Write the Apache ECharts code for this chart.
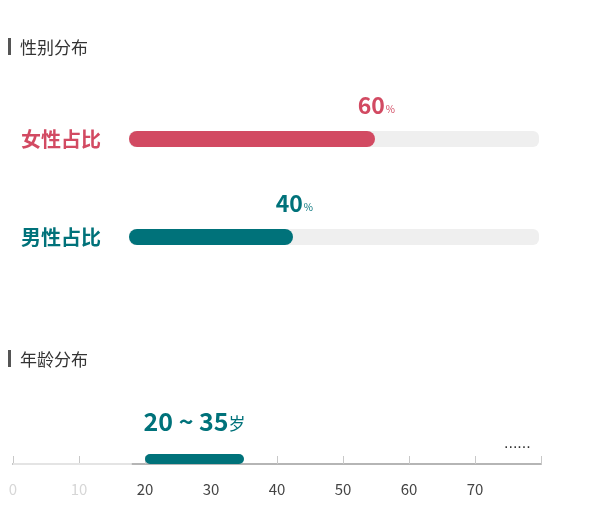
<!DOCTYPE html>
<html>
<head>
<meta charset="utf-8">
<script src="https://cdn.jsdelivr.net/npm/echarts@6/dist/echarts.min.js"></script>
<style>html,body{margin:0;padding:0;background:#fff}#main{width:600px;height:509px}</style>
</head>
<body>
<div id="main"></div>
<script>
var genderNames = ['男性占比', '女性占比'];
var genderValues = [40, 60];
var genderColors = ['#00727a', '#d24a62'];
var ageRange = [20, 35];
var ageTicks = [0, 10, 20, 30, 40, 50, 60, 70];
var ageFaded = [0, 18];

(function(){
    var chart = echarts.init(document.getElementById('main'));
    var font = '"Noto Sans CJK SC", "Noto Sans", sans-serif';

    var option = {
        textStyle: { fontFamily: font },
        title: [
            { text: '性别分布', left: 15, top: 34, textStyle: { fontSize: 17, fontWeight: 'normal', color: '#333', fontFamily: font } },
            { text: '年龄分布', left: 15, top: 346, textStyle: { fontSize: 17, fontWeight: 'normal', color: '#333', fontFamily: font } }
        ],
        graphic: [
            { type: 'rect', left: 8, top: 38, shape: { width: 3, height: 17 }, style: { fill: '#555' } },
            { type: 'rect', left: 8, top: 350, shape: { width: 3, height: 17 }, style: { fill: '#555' } },
            { type: 'text', left: 504, top: 436, style: { text: '......', fill: '#333', fontSize: 16 } }
        ],
        grid: [
            { left: 129, right: 61, top: 90, height: 196 },
            { left: 13, right: 59, top: 454, height: 10 }
        ],
        xAxis: [
            { gridIndex: 0, type: 'value', min: 0, max: 100, show: false },
            { gridIndex: 1, type: 'value', min: 0, max: 80, interval: 10,
              splitLine: { show: false },
              axisLine: { show: true, lineStyle: { color: '#b5b5b5', width: 2 } },
              axisTick: { show: true, inside: true, length: 8, lineStyle: { color: '#c8c8c8' } },
              axisLabel: {
                  margin: 18, fontSize: 15, fontFamily: font,
                  formatter: function (v) { return ageTicks.indexOf(v) >= 0 ? String(v) : ''; },
                  color: function (v) { return v < 20 ? '#d6d6d6' : '#444'; }
              } }
        ],
        yAxis: [
            { gridIndex: 0, type: 'category', data: genderNames,
              axisLine: { show: false }, axisTick: { show: false },
              axisLabel: {
                  margin: 28, fontSize: 20, fontWeight: 'bold', fontFamily: font,
                  color: function (v, i) { return genderColors[i]; }
              } },
            { gridIndex: 1, type: 'category', data: ['age'], show: false },
            { gridIndex: 1, type: 'value', min: 0, max: 1, show: false }
        ],
        series: [
            {
                type: 'bar', xAxisIndex: 0, yAxisIndex: 0, barWidth: 16,
                showBackground: true,
                backgroundStyle: { color: '#efefef', borderRadius: 6 },
                itemStyle: {
                    borderRadius: 8,
                    color: function (p) { return genderColors[p.dataIndex]; }
                },
                label: {
                    show: true, position: ['100%', 0], align: 'right', verticalAlign: 'bottom',
                    offset: [20, -14],
                    formatter: function (p) { return '{n' + p.dataIndex + '|' + p.value + '}{p' + p.dataIndex + '|%}'; },
                    rich: {
                        n0: { fontSize: 23, fontWeight: 'bold', color: genderColors[0], fontFamily: font },
                        p0: { fontSize: 10, color: genderColors[0], padding: [8, 0, 0, 1] },
                        n1: { fontSize: 23, fontWeight: 'bold', color: genderColors[1], fontFamily: font },
                        p1: { fontSize: 10, color: genderColors[1], padding: [8, 0, 0, 1] }
                    }
                },
                data: genderValues
            },
            {
                type: 'bar', xAxisIndex: 1, yAxisIndex: 1, stack: 'age', barWidth: 12,
                itemStyle: { color: 'transparent' }, silent: true,
                data: [ageRange[0]]
            },
            {
                type: 'bar', xAxisIndex: 1, yAxisIndex: 1, stack: 'age', barWidth: 12,
                itemStyle: { color: '#00727a', borderRadius: 6 },
                label: {
                    show: true, position: 'top', distance: 20,
                    formatter: '{n|' + ageRange[0] + ' ~ ' + ageRange[1] + '}{u|岁}',
                    rich: {
                        n: { fontSize: 25, fontWeight: 'bold', color: '#00727a', fontFamily: font },
                        u: { fontSize: 17, color: '#00727a', padding: [4, 0, 0, 0] }
                    }
                },
                data: [ageRange[1] - ageRange[0]]
            },
            {
                type: 'line', xAxisIndex: 1, yAxisIndex: 2, symbol: 'none', z: 5,
                lineStyle: { color: '#e4e4e4', width: 2 },
                data: [[ageFaded[0], 0], [ageFaded[1], 0]]
            }
        ]
    };

    chart.setOption(option);
})();
</script>
</body>
</html>
